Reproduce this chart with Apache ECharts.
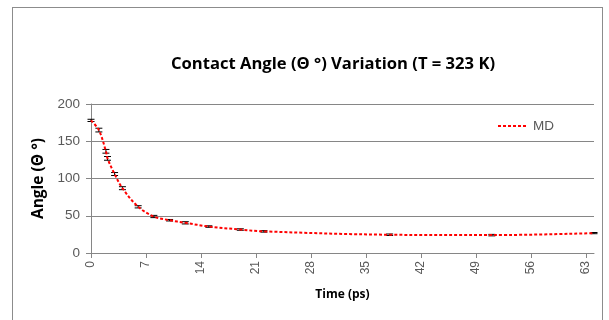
<!DOCTYPE html>
<html>
<head>
<meta charset="utf-8">
<script src="https://cdn.jsdelivr.net/npm/echarts@6/dist/echarts.min.js"></script>
<style>
html,body{margin:0;padding:0;background:#fff;}
#frame{position:absolute;left:12px;top:7px;width:591px;height:330px;border:1px solid #8c8c8c;box-sizing:border-box;}
#chart{position:absolute;left:0;top:0;width:609px;height:320px;}
</style>
</head>
<body>
<div id="frame"></div>
<div id="chart"></div>
<script>
// Data
var timePs   = [0, 1, 1.9, 2.1, 3, 4, 6, 8, 10, 12, 15, 19, 22, 38, 51, 64];
var angleDeg = [178, 165, 136.5, 127, 106, 87, 62, 49, 44, 40.5, 35.5, 31.5, 29, 24.5, 24, 26.7];
var errDeg   = [1.5, 2.5, 2.5, 2.5, 2, 2, 1.5, 1.5, 1, 1.5, 1, 1, 1, 1, 1, 0.8];
var xTicks = [0, 7, 14, 21, 28, 35, 42, 49, 56, 63];
var yTicks = [0, 50, 100, 150, 200];
var seriesName = 'MD';
var titleText = 'Contact Angle (\u0398 \u00B0) Variation (T = 323 K)';

var lineData = timePs.map(function (t, i) { return [t, angleDeg[i]]; });
var errData = timePs.map(function (t, i) { return [t, angleDeg[i] - errDeg[i], angleDeg[i] + errDeg[i]]; });

var chart = echarts.init(document.getElementById('chart'), null, {renderer: 'canvas'});
var grey = '#595959';
chart.setOption({
  animation: false,
  backgroundColor: 'transparent',
  title: {
    text: titleText,
    left: 328, top: 51, textAlign: 'center',
    textStyle: {fontFamily: 'Open Sans', fontWeight: 'bold', fontSize: 16.6, color: '#000'}
  },
  legend: {
    data: [{name: seriesName}],
    right: 50, top: 114,
    itemWidth: 30, itemHeight: 10, itemGap: 5,
    itemStyle: {opacity: 0},
    lineStyle: {color: '#ff0000', width: 2, type: [3, 2]},
    textStyle: {fontFamily: 'Liberation Sans', fontSize: 13.5, color: grey}
  },
  grid: {left: 91, right: 15, top: 104, bottom: 67, containLabel: false},
  xAxis: {
    type: 'value', min: 0, max: 64, interval: 7,
    name: 'Time (ps)', nameLocation: 'middle', nameGap: 36,
    nameTextStyle: {fontFamily: 'Open Sans', fontWeight: 'bold', fontSize: 12, color: '#000'},
    axisLine: {show: true, lineStyle: {color: '#868686', width: 1}},
    axisTick: {show: true, inside: false, length: 5, lineStyle: {color: '#868686'}},
    axisLabel: {rotate: 90, margin: 8, showMaxLabel: false,
      fontFamily: 'Liberation Sans', fontSize: 12, color: grey,
      formatter: function (v) { return xTicks.indexOf(v) >= 0 ? String(v) : ''; }},
    splitLine: {show: false}
  },
  yAxis: {
    type: 'value', min: 0, max: 200, interval: 50,
    name: 'Angle (\u0398 \u00B0)', nameLocation: 'middle', nameGap: 44, nameRotate: 90,
    nameTextStyle: {fontFamily: 'Open Sans', fontWeight: 'bold', fontSize: 15.5, color: '#000'},
    axisLine: {show: true, lineStyle: {color: '#868686', width: 1}},
    axisTick: {show: true, inside: false, length: 5, lineStyle: {color: '#868686'}},
    axisLabel: {margin: 11, fontFamily: 'Liberation Sans', fontSize: 13.5, color: grey,
      formatter: function (v) { return yTicks.indexOf(v) >= 0 ? String(v) : ''; }},
    splitLine: {show: true, lineStyle: {color: '#868686', width: 1}}
  },
  series: [
    {
      name: seriesName, type: 'line', data: lineData, smooth: 0.35,
      showSymbol: false, symbol: 'none', z: 3,
      lineStyle: {color: '#ff0000', width: 2, type: [3, 2]},
      itemStyle: {color: '#ff0000'}
    },
    {
      name: 'err', type: 'custom', data: errData, z: 2,
      renderItem: function (params, api) {
        var x = api.value(0);
        var lo = api.coord([x, api.value(1)]);
        var hi = api.coord([x, api.value(2)]);
        var hw = 3.5;
        var st = {stroke: '#000', lineWidth: 1};
        return {type: 'group', children: [
          {type: 'line', shape: {x1: lo[0], y1: lo[1], x2: hi[0], y2: hi[1]}, style: st},
          {type: 'line', shape: {x1: lo[0] - hw, y1: lo[1], x2: lo[0] + hw, y2: lo[1]}, style: st},
          {type: 'line', shape: {x1: hi[0] - hw, y1: hi[1], x2: hi[0] + hw, y2: hi[1]}, style: st}
        ]};
      }
    }
  ]
});
</script>
</body>
</html>
